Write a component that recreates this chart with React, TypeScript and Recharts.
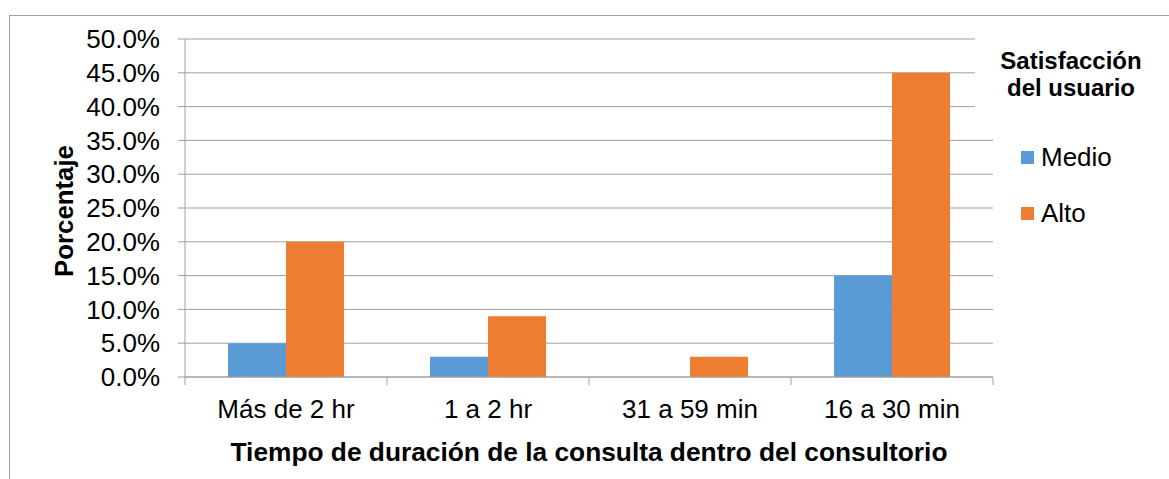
import React from 'react';
import { BarChart, Bar, XAxis, YAxis, CartesianGrid } from 'recharts';

const categories = ['Más de 2 hr', '1 a 2 hr', '31 a 59 min', '16 a 30 min'];
const medio = [5, 3, 0, 15];
const alto = [20, 9, 3, 45];
const yTicks = [0, 5, 10, 15, 20, 25, 30, 35, 40, 45, 50];
const seriesNames = ['Medio', 'Alto'];
const seriesColors = ['#5B9BD5', '#ED7D31'];
const legendTitle = ['Satisfacción', 'del usuario'];
const xTitle = 'Tiempo de duración de la consulta dentro del consultorio';
const yTitle = 'Porcentaje';

const data = categories.map((c, i) => ({ name: c, Medio: medio[i], Alto: alto[i] }));

const FONT = '"Liberation Sans", Arial, sans-serif';
const GRID = '#a0a0a0';

const XTick = (props: any) => {
  const { x, y, payload, index, visibleTicksCount, width } = props;
  const half =
    payload && typeof payload.offset === 'number' && payload.offset > 0
      ? payload.offset
      : (typeof width === 'number' ? width : 808) / categories.length / 2;
  const axisY = y - 23;
  const last = index === (visibleTicksCount ?? categories.length) - 1;
  return (
    <g>
      <line x1={x - half} x2={x - half} y1={axisY} y2={axisY + 8} stroke={GRID} strokeWidth={1} />
      {last && <line x1={x + half} x2={x + half} y1={axisY} y2={axisY + 8} stroke={GRID} strokeWidth={1} />}
      <text x={x} y={y} dy="0.71em" textAnchor="middle" fontSize={26} fontFamily={FONT} fill="#000">
        {payload.value}
      </text>
    </g>
  );
};

const XLabel = (props: any) => {
  const vb = props.viewBox || {};
  return (
    <text
      x={vb.x + vb.width / 2}
      y={vb.y + 84}
      textAnchor="middle"
      fontSize={26.3}
      fontWeight="bold"
      fontFamily={FONT}
      fill="#000"
    >
      {xTitle}
    </text>
  );
};

const YLabel = (props: any) => {
  const vb = props.viewBox || {};
  const cx = vb.x + 28;
  const cy = vb.y + vb.height / 2 + 3;
  return (
    <text
      x={cx}
      y={cy}
      transform={`rotate(-90, ${cx}, ${cy})`}
      textAnchor="middle"
      fontSize={25.8}
      fontWeight="bold"
      fontFamily={FONT}
      fill="#000"
    >
      {yTitle}
    </text>
  );
};

export default function App() {
  return (
    <div
      style={{
        position: 'fixed',
        left: 0,
        top: 0,
        width: 1169,
        height: 479,
        overflow: 'hidden',
        background: '#fff',
        fontFamily: FONT,
      }}
    >
      <div
        style={{
          position: 'absolute',
          left: 9,
          top: 15,
          width: 1300,
          height: 600,
          border: `1px solid ${GRID}`,
          boxSizing: 'border-box',
        }}
      />
      <div style={{ position: 'absolute', left: 0, top: 0 }}>
        <BarChart
          width={1169}
          height={479}
          data={data}
          margin={{ top: 39, right: 176, bottom: 0, left: 45 }}
          barCategoryGap="21.3%"
          barGap={0}
        >
          <CartesianGrid vertical={false} stroke={GRID} strokeWidth={1} />
          <XAxis
            dataKey="name"
            height={102}
            tickLine={false}
            tickSize={8}
            tickMargin={15}
            axisLine={{ stroke: GRID, strokeWidth: 1 }}
            tick={<XTick />}
            interval={0}
            label={<XLabel />}
          />
          <YAxis
            width={140}
            domain={[0, 50]}
            ticks={yTicks}
            interval={0}
            tickFormatter={(v: number) => v.toFixed(1) + '%'}
            tickSize={7}
            tickMargin={18}
            tickLine={{ stroke: GRID, strokeWidth: 1 }}
            axisLine={{ stroke: GRID, strokeWidth: 1 }}
            tick={{ fontSize: 26, fontFamily: FONT, fill: '#000' }}
            label={<YLabel />}
          />
          {seriesNames.map((s, i) => (
            <Bar key={s} dataKey={s} fill={seriesColors[i]} isAnimationActive={false} />
          ))}
        </BarChart>
      </div>
      <div
        style={{
          position: 'absolute',
          left: 975,
          top: 35,
          width: 192,
          height: 85,
          paddingTop: 12,
          boxSizing: 'border-box',
          background: '#fff',
          textAlign: 'center',
          fontWeight: 'bold',
          fontSize: 24,
          lineHeight: '27px',
          color: '#000',
        }}
      >
        {legendTitle.map((t) => (
          <div key={t}>{t}</div>
        ))}
      </div>
      {seriesNames.map((s, i) => (
        <React.Fragment key={s}>
          <div
            style={{
              position: 'absolute',
              left: 1021,
              top: 151 + i * 55.5,
              width: 13,
              height: 13,
              background: seriesColors[i],
            }}
          />
          <div
            style={{
              position: 'absolute',
              left: 1041,
              top: 142 + i * 55.5,
              fontSize: 26,
              lineHeight: '30px',
              color: '#000',
              whiteSpace: 'nowrap',
            }}
          >
            {s}
          </div>
        </React.Fragment>
      ))}
    </div>
  );
}
